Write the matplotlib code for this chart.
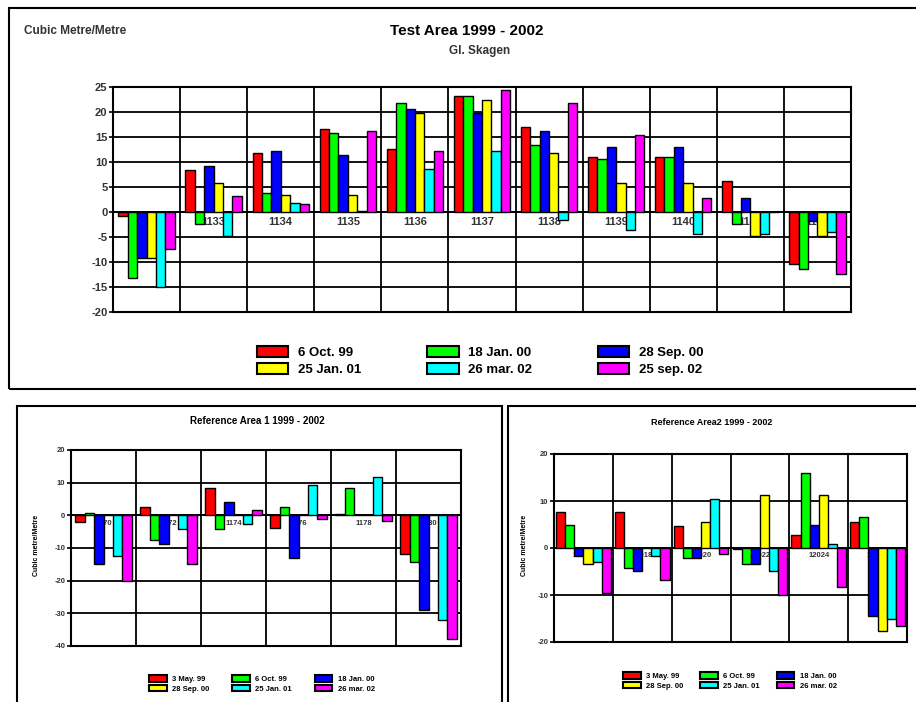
import numpy as np
import matplotlib.pyplot as plt
from matplotlib.patches import Rectangle, Patch

plt.rcParams['axes.unicode_minus'] = False

W, H = 916, 702

colors = ['#ff0000', '#00ff00', '#0000ff', '#ffff00', '#00ffff', '#ff00ff']

# Test Area (Gl. Skagen)
test_sections = ['1132', '1133', '1134', '1135', '1136', '1137',
                 '1138', '1139', '1140', '1141', '1142']
test_dates = ['6 Oct. 99', '18 Jan. 00', '28 Sep. 00',
              '25 Jan. 01', '26 mar. 02', '25 sep. 02']
test_oct99 = [-0.7, 8.4, 11.9, 16.7, 12.7, 23.2, 17.0, 11.1, 11.1, 6.3, -10.3]
test_jan00 = [-13.2, -2.3, 3.9, 15.9, 21.8, 23.2, 13.5, 10.7, 11.0, -2.3, -11.3]
test_sep00 = [-9.2, 9.2, 12.3, 11.5, 20.7, 19.8, 16.3, 13.1, 13.1, 2.8, -1.7]
test_jan01 = [-9.2, 5.9, 3.5, 3.5, 19.8, 22.4, 11.9, 5.9, 5.9, -4.8, -4.8]
test_mar02 = [-15.0, -4.8, 1.9, 0.3, 8.7, 12.3, -1.5, -3.6, -4.4, -4.4, -4.0]
test_sep02 = [-7.3, 3.2, 1.6, 16.2, 12.3, 24.5, 21.8, 15.4, 2.8, 0.0, -12.4]

# Reference Area 1
ref1_sections = ['1170', '1172', '1174', '1176', '1178', '1180']
ref_dates = ['3 May. 99', '6 Oct. 99', '18 Jan. 00',
             '28 Sep. 00', '25 Jan. 01', '26 mar. 02']
ref1_may99 = [-1.9, 2.4, 8.5, -3.8, 0.4, -11.8]
ref1_oct99 = [0.6, -7.4, -4.3, 2.4, 8.5, -14.2]
ref1_jan00 = [-14.8, -8.7, 4.2, -13.0, 0.0, -29.0]
ref1_sep00 = [0.0, 0.0, 0.0, 0.0, 0.0, 0.0]
ref1_jan01 = [-12.5, -4.3, -2.5, 9.2, 11.6, -31.9]
ref1_mar02 = [-20.1, -14.8, 1.6, -1.2, -1.7, -38.0]

# Reference Area 2
ref2_sections = ['12016', '12018', '12020', '12022', '12024', '12026']
ref2_may99 = [7.6, 7.6, 4.6, -0.2, 2.8, 5.5]
ref2_oct99 = [5.0, -4.3, -2.1, -3.4, 16.0, 6.7]
ref2_jan00 = [-1.6, -4.8, -2.1, -3.4, 5.0, -14.5]
ref2_sep00 = [-3.5, 0.0, 5.5, 11.3, 11.3, -17.6]
ref2_jan01 = [-3.0, -1.6, 10.5, -4.8, 0.8, -15.2]
ref2_mar02 = [-9.6, -6.9, -1.3, -10.1, -8.2, -16.5]

FONT = 'Liberation Sans'


def box(fig, x0, y0, x1, y1, lw=1.5):
    fig.add_artist(Rectangle((x0 / W, 1 - y1 / H), (x1 - x0) / W, (y1 - y0) / H,
                             transform=fig.transFigure, fill=False,
                             edgecolor='black', linewidth=lw, clip_on=False))


def axes_px(fig, x0, y0, x1, y1):
    return fig.add_axes([x0 / W, 1 - y1 / H, (x1 - x0) / W, (y1 - y0) / H])


def bar_panel(ax, sections, series, ylim, step, width, label_y, tick_fs, cat_fs):
    n = len(sections)
    x = np.arange(n)
    k = len(series)
    for j, vals in enumerate(series):
        ax.bar(x + (j - (k - 1) / 2) * width, vals, width,
               color=colors[j], edgecolor='black', linewidth=1.0, zorder=3)
    ax.set_xlim(-0.5, n - 0.5)
    ax.set_ylim(*ylim)
    ax.set_yticks(np.arange(ylim[0], ylim[1] + 0.1, step))
    ax.set_xticks(np.arange(n + 1) - 0.5, minor=True)
    ax.set_xticks([])
    ax.grid(axis='y', which='major', color='black', linewidth=1.3, zorder=1)
    ax.grid(axis='x', which='minor', color='black', linewidth=1.3, zorder=1)
    ax.axhline(0, color='black', linewidth=1.3, zorder=2)
    ax.tick_params(axis='x', which='minor', length=0)
    ax.tick_params(axis='y', length=3, width=1.2, labelsize=tick_fs, pad=1)
    for lab in ax.get_yticklabels():
        lab.set_fontfamily(FONT)
        lab.set_fontweight('bold')
        lab.set_color('#333333')
    for s in ax.spines.values():
        s.set_linewidth(1.5)
    for i, name in enumerate(sections):
        ax.text(i, label_y, name, ha='center', va='center', fontsize=cat_fs,
                fontfamily=FONT, fontweight='bold', color='#333333', zorder=2)


def legend(fig, labels, cx, cy, fs, hl, cs):
    handles = [Patch(facecolor=c, edgecolor='black', linewidth=1.5) for c in colors]
    order = [0, 3, 1, 4, 2, 5]
    fig.legend([handles[i] for i in order], [labels[i] for i in order],
               loc='center', bbox_to_anchor=(cx / W, 1 - cy / H), ncol=3,
               frameon=False, prop={'family': FONT, 'size': fs, 'weight': 'bold'},
               handlelength=hl, handleheight=0.9, handletextpad=0.7,
               columnspacing=cs, labelspacing=0.25, borderpad=0)


fig = plt.figure(figsize=(W / 100, H / 100), dpi=100)

# outer frames
box(fig, 9, 8, 925, 389)
box(fig, 17, 406, 502, 710)
box(fig, 508, 406, 925, 710)

# top panel
ax = axes_px(fig, 113, 87, 851, 312)
bar_panel(ax, test_sections,
          [test_oct99, test_jan00, test_sep00, test_jan01, test_mar02, test_sep02],
          (-20, 25), 5, 0.14, -2.0, 8, 8)
fig.text(24 / W, 1 - 31 / H, 'Cubic Metre/Metre', fontsize=8.5, fontfamily=FONT,
         fontweight='bold', color='#333333', va='center')
fig.text(467 / W, 1 - 31 / H, 'Test Area 1999 - 2002', fontsize=11, fontfamily=FONT,
         fontweight='bold', ha='center', va='center')
fig.text(480 / W, 1 - 51 / H, 'Gl. Skagen', fontsize=8.5, fontfamily=FONT,
         fontweight='bold', color='#333333', ha='center', va='center')
legend(fig, test_dates, 480, 361, 9.5, 2.4, 5.0)

# bottom left panel
ax1 = axes_px(fig, 71, 450, 461, 646)
bar_panel(ax1, ref1_sections,
          [ref1_may99, ref1_oct99, ref1_jan00, ref1_sep00, ref1_jan01, ref1_mar02],
          (-40, 20), 10, 0.145, -2.5, 5.5, 5.5)
fig.text(257 / W, 1 - 421 / H, 'Reference Area 1 1999 - 2002', fontsize=7,
         fontfamily=FONT, fontweight='bold', ha='center', va='center')
fig.text(37 / W, 1 - 545 / H, 'Cubic metre/Metre', fontsize=5, fontfamily=FONT,
         fontweight='bold', rotation=90, ha='center', va='center')
legend(fig, ref_dates, 262, 684, 5.5, 2.3, 3.0)

# bottom right panel
ax2 = axes_px(fig, 554, 454, 907, 642)
bar_panel(ax2, ref2_sections,
          [ref2_may99, ref2_oct99, ref2_jan00, ref2_sep00, ref2_jan01, ref2_mar02],
          (-20, 20), 10, 0.155, -1.6, 5.5, 5.5)
fig.text(712 / W, 1 - 422 / H, 'Reference Area2 1999 - 2002', fontsize=6.5,
         fontfamily=FONT, fontweight='bold', ha='center', va='center')
fig.text(524 / W, 1 - 545 / H, 'Cubic metre/Metre', fontsize=5, fontfamily=FONT,
         fontweight='bold', rotation=90, ha='center', va='center')
legend(fig, ref_dates, 730, 681, 5.5, 2.3, 2.2)

fig.savefig('out.png', dpi=100)
